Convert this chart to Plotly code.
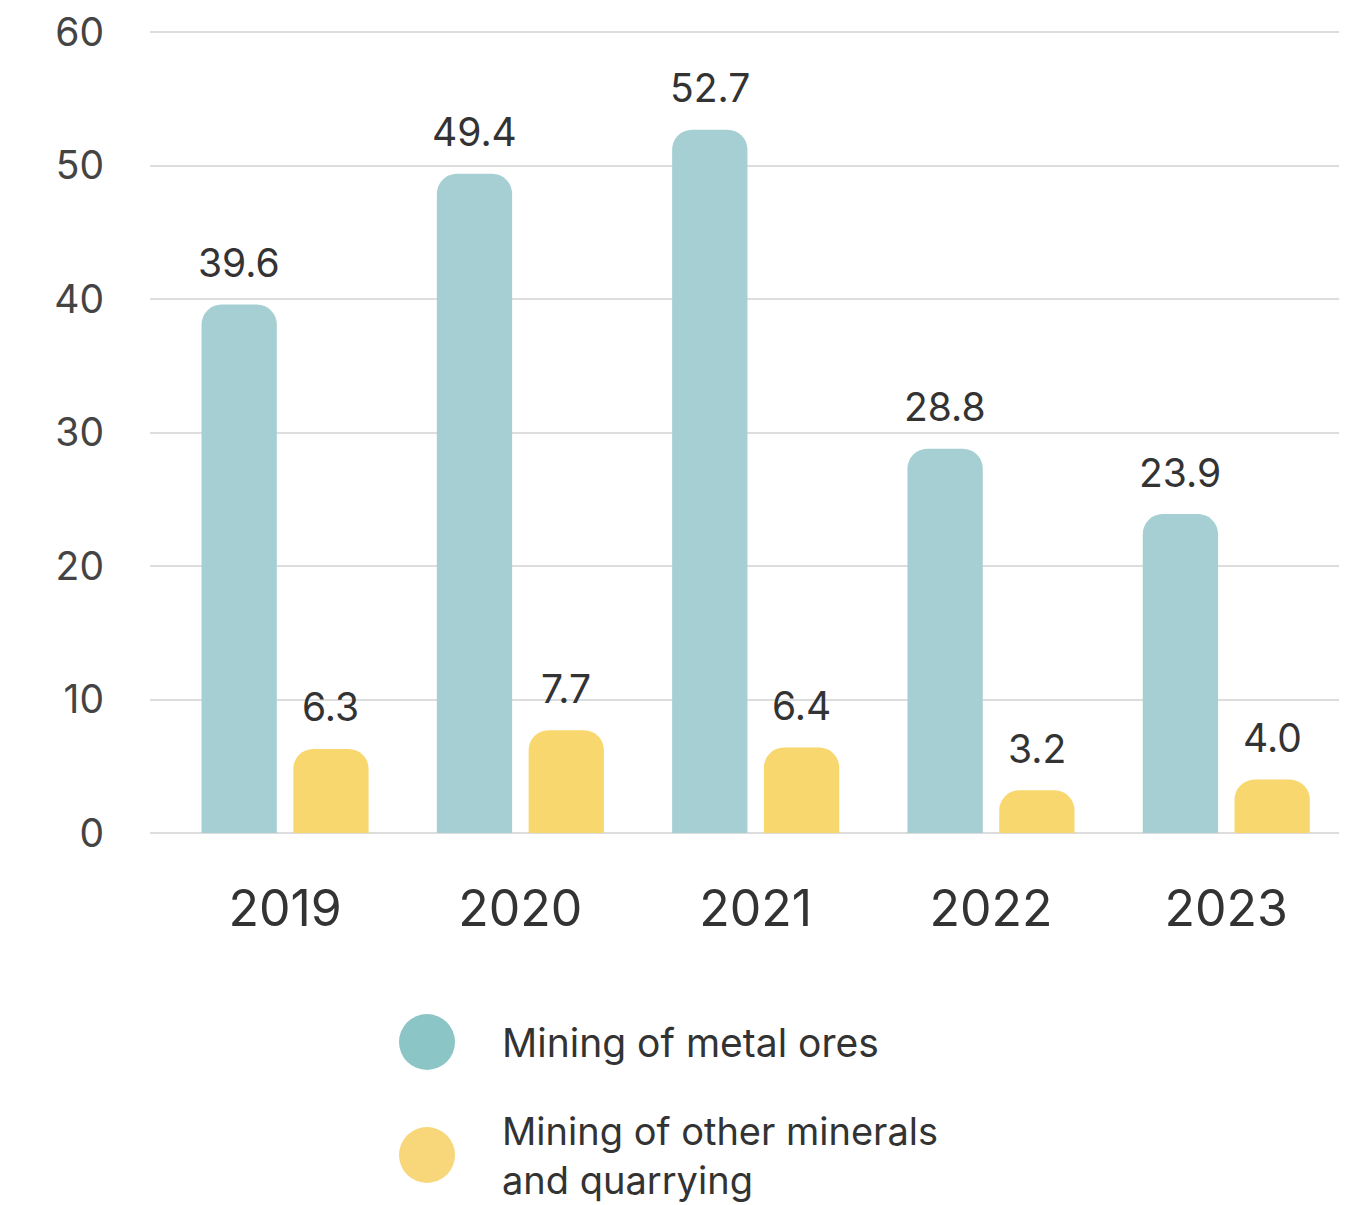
import plotly.graph_objects as go

years = ["2019", "2020", "2021", "2022", "2023"]
metal_ores = [39.6, 49.4, 52.7, 28.8, 23.9]
other_minerals = [6.3, 7.7, 6.4, 3.2, 4.0]
y_ticks = [0, 10, 20, 30, 40, 50, 60]
series_names = ["Mining of metal ores", "Mining of other minerals<br>and quarrying"]

TEAL = "#a5cfd2"
YELLOW = "#f9d76f"
FONT = "Inter, Lato, sans-serif"
TEXT = "#333333"

idx = list(range(len(years)))

fig = go.Figure()
fig.add_trace(go.Bar(
    x=idx, y=metal_ores, name=series_names[0],
    offset=-0.355, width=0.32,
    marker=dict(color=TEAL, cornerradius=20, line=dict(width=0)),
    showlegend=False, hoverinfo="y",
))
fig.add_trace(go.Bar(
    x=idx, y=other_minerals, name=series_names[1],
    offset=0.035, width=0.32,
    marker=dict(color=YELLOW, cornerradius=20, line=dict(width=0)),
    showlegend=False, hoverinfo="y",
))

annotations = []
for i, v in zip(idx, metal_ores):
    annotations.append(dict(x=i - 0.195, y=v, xref="x", yref="y", text=f"{v:.1f}",
                            showarrow=False, yanchor="middle", yshift=42,
                            font=dict(family=FONT, size=39, color=TEXT)))
for i, v in zip(idx, other_minerals):
    annotations.append(dict(x=i + 0.195, y=v, xref="x", yref="y", text=f"{v:.1f}",
                            showarrow=False, yanchor="middle", yshift=42,
                            font=dict(family=FONT, size=39, color=TEXT)))

# custom legend (large circular swatches); page has an 8px body margin
OFF = 8
plot_left, plot_width = 150 - OFF, 1197
plot_bottom = 833 - OFF
plot_height = 802
def px_x(p):
    return (p - OFF - plot_left) / plot_width
def px_y(p):
    return (plot_bottom - (p - OFF)) / plot_height

shapes = []
for cy, col in [(1042, "#8cc5c6"), (1155, "#f8d67a")]:
    shapes.append(dict(type="circle", xref="paper", yref="paper",
                       xsizemode="pixel", ysizemode="pixel",
                       xanchor=px_x(427), yanchor=px_y(cy),
                       x0=-28, x1=28, y0=-28, y1=28,
                       fillcolor=col, line=dict(width=0)))
annotations.append(dict(x=px_x(500), y=px_y(1042), xref="paper", yref="paper",
                        text=series_names[0], showarrow=False, xanchor="left", yanchor="middle",
                        align="left", font=dict(family=FONT, size=39, color=TEXT)))
annotations.append(dict(x=px_x(500), y=px_y(1155), xref="paper", yref="paper",
                        text=series_names[1], showarrow=False, xanchor="left", yanchor="middle",
                        align="left", font=dict(family=FONT, size=38, color=TEXT)))

fig.update_layout(
    width=1339, height=1197,
    margin=dict(l=142, r=0, t=23, b=372),
    plot_bgcolor="white", paper_bgcolor="white",
    barmode="overlay",
    annotations=annotations, shapes=shapes,
    showlegend=False,
    font=dict(family=FONT, color=TEXT),
)
fig.update_xaxes(
    range=[-0.574, 4.513], tickvals=idx, ticktext=years,
    showgrid=False, zeroline=False, showline=False, ticks="",
    tickfont=dict(family=FONT, size=50, color=TEXT), ticklabelstandoff=42,
)
fig.update_yaxes(
    range=[0, 60.1], tickvals=y_ticks, showgrid=True, gridcolor="#dddddd", gridwidth=2,
    zeroline=True, zerolinecolor="#dddddd", zerolinewidth=2, showline=False, ticks="",
    tickfont=dict(family=FONT, size=39, color="#444444"), ticklabelstandoff=45,
    ticklabeloverflow="allow",
)

fig.write_html("out.html")
